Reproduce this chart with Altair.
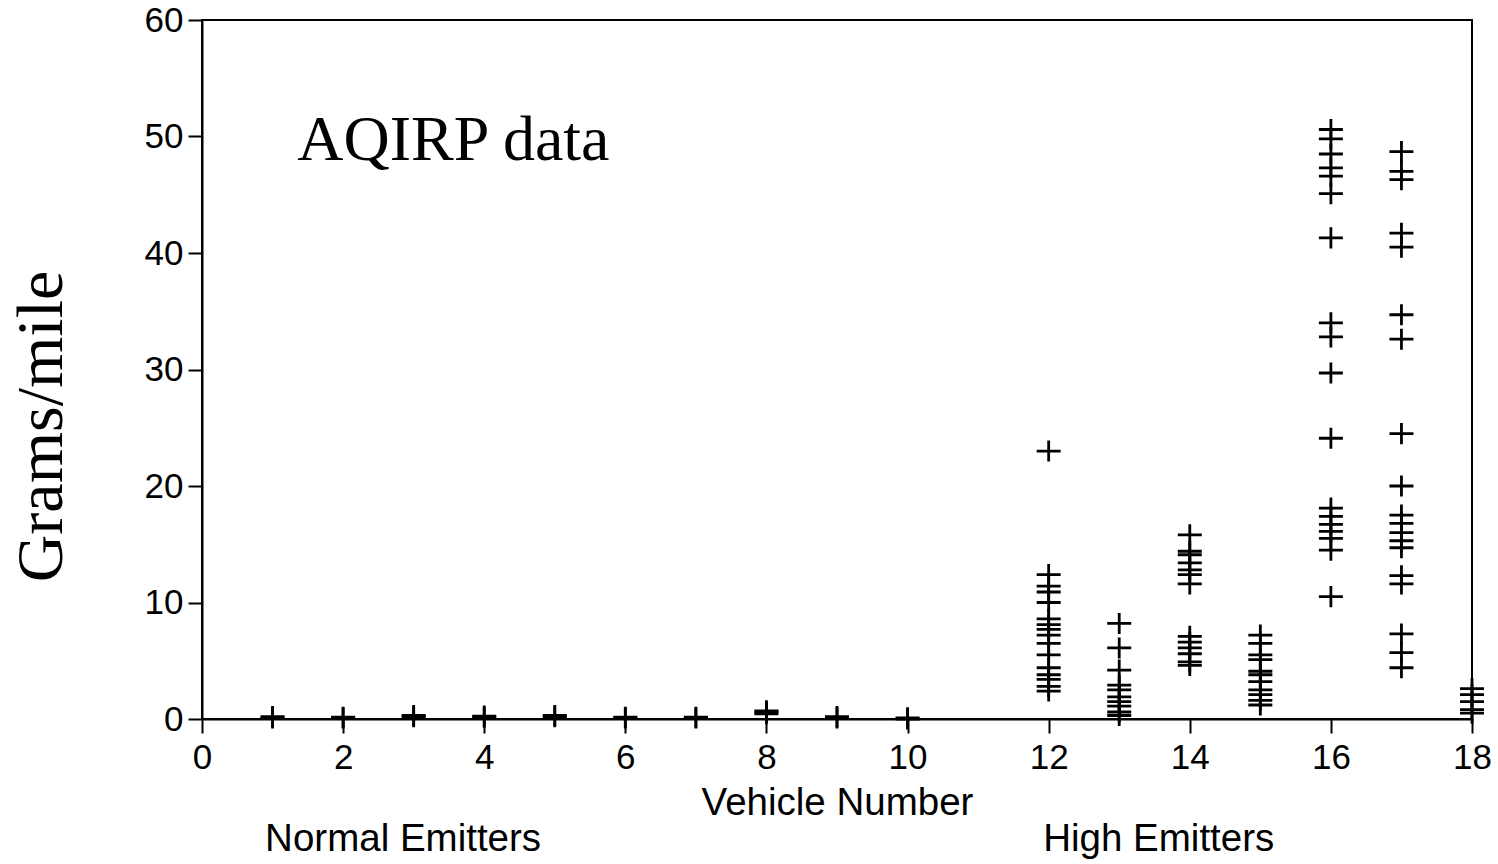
import altair as alt
import pandas as pd

# Emission measurements (grams/mile) per vehicle
vehicles = list(range(1, 19))
v01 = [0.1, 0.2]
v02 = [0.1, 0.15]
v03 = [0.2, 0.3]
v04 = [0.15, 0.25]
v05 = [0.2, 0.3]
v06 = [0.1, 0.15]
v07 = [0.1, 0.15]
v08 = [0.45, 0.6, 0.7]
v09 = [0.1, 0.2]
v10 = [0.0, 0.1]
v11 = []
v12 = [23.0, 12.4, 11.4, 10.9, 10.0, 8.6, 8.1, 7.7, 7.2, 6.5, 5.5, 4.4, 3.8, 3.4, 2.8, 2.4]
v13 = [8.2, 6.1, 4.2, 2.9, 2.5, 1.9, 1.5, 1.1, 0.6, 0.3]
v14 = [15.8, 14.4, 14.1, 13.4, 12.8, 12.4, 11.6, 7.1, 6.6, 6.1, 5.6, 4.9, 4.6]
v15 = [7.2, 6.5, 5.5, 5.1, 4.1, 3.8, 3.2, 2.5, 2.1, 1.6, 1.2]
v16 = [50.6, 49.8, 48.5, 47.3, 46.6, 45.1, 41.3, 34.0, 32.8, 29.7, 24.1,
       18.1, 17.4, 16.7, 16.1, 15.5, 14.5, 10.5]
v17 = [48.7, 47.0, 46.3, 41.7, 40.5, 34.7, 32.6, 24.5, 20.0, 17.5, 16.8,
       16.0, 15.3, 14.7, 12.3, 11.6, 7.3, 5.7, 4.4]
v18 = [2.6, 2.1, 1.5, 0.8, 0.5]

series = [v01, v02, v03, v04, v05, v06, v07, v08, v09, v10,
          v11, v12, v13, v14, v15, v16, v17, v18]

x_ticks = [0, 2, 4, 6, 8, 10, 12, 14, 16, 18]
y_ticks = [0, 10, 20, 30, 40, 50, 60]

rows = [{"vehicle": v, "gpm": g} for v, vals in zip(vehicles, series) for g in vals]
df = pd.DataFrame(rows)

sans = "Liberation Sans"
serif = "Liberation Serif"

x_scale = alt.Scale(domain=[0, 18], nice=False, zero=False)
y_scale = alt.Scale(domain=[0, 60], nice=False)

plus = "M-1,0H1M0,-0.88V0.88"

points = alt.Chart(df).mark_point(
    shape=plus, filled=False, size=576, stroke="black", strokeWidth=2.8, opacity=1
).encode(
    x=alt.X("vehicle:Q", scale=x_scale, axis=alt.Axis(
        values=x_ticks, grid=False, format="d", labelFlush=False,
        domainColor="black", domainWidth=2,
        tickColor="black", tickWidth=2, tickSize=14,
        labelFont=sans, labelFontSize=35, labelColor="black", labelPadding=7,
        title="Vehicle Number", titleFont=sans, titleFontSize=38.5,
        titleFontWeight="normal", titleColor="black",
        titleBaseline="alphabetic", titleY=95,
    )),
    y=alt.Y("gpm:Q", scale=y_scale, axis=alt.Axis(
        values=y_ticks, grid=False, format="d", labelFlush=False,
        domainColor="black", domainWidth=2,
        tickColor="black", tickWidth=2, tickSize=14,
        labelFont=sans, labelFontSize=35, labelColor="black", labelPadding=5,
        title="Grams/mile", titleFont=serif, titleFontSize=66,
        titleFontWeight="normal", titleColor="black",
        titleAngle=270, titleBaseline="alphabetic", titleAlign="center",
        titleX=-141, titleY=406,
    )),
)

label_df = pd.DataFrame({"x": [1.35], "y": [48.0], "t": ["AQIRP data"]})
label = alt.Chart(label_df).mark_text(
    font=serif, fontSize=64, color="black", align="left", baseline="alphabetic"
).encode(
    x=alt.X("x:Q", scale=x_scale),
    y=alt.Y("y:Q", scale=y_scale),
    text="t:N",
)

group_df = pd.DataFrame({"x": [2.85, 13.56], "t": ["Normal Emitters", "High Emitters"]})
groups = alt.Chart(group_df).mark_text(
    font=sans, fontSize=38.5, color="black", align="center", baseline="alphabetic"
).encode(
    x=alt.X("x:Q", scale=x_scale),
    y=alt.value(831),
    text="t:N",
)

chart = alt.layer(points, label, groups).properties(
    width=1270,
    height=699,
    autosize=alt.AutoSizeParams(type="none"),
    padding={"left": 202, "top": 20, "right": 26, "bottom": 145},
    background="white",
).configure_view(stroke="black", strokeWidth=2)

chart.save("out.html", embed_options={"renderer": "svg", "actions": False})
